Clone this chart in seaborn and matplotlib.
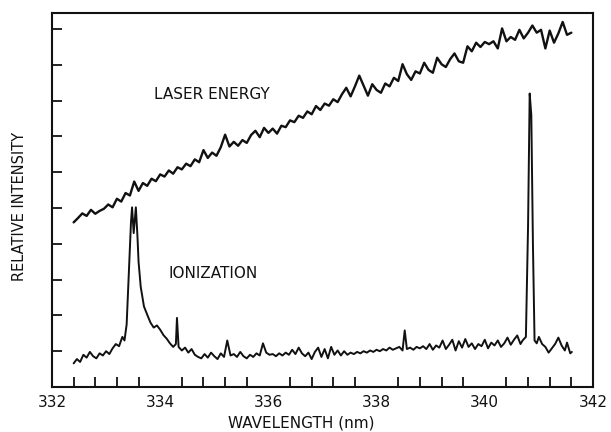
"""Laser energy and ionization signal versus wavelength (scanned figure)."""

import matplotlib

matplotlib.use("Agg")
import matplotlib.pyplot as plt
import numpy as np
import pandas as pd
import seaborn as sns
from matplotlib.ticker import MultipleLocator

# --- laser energy trace ---
laser_nm = [
    332.40, 332.48, 332.56, 332.64, 332.72, 332.80, 332.88, 332.96, 333.04, 333.12,
    333.20, 333.28, 333.36, 333.44, 333.52, 333.60, 333.68, 333.76, 333.84, 333.92,
    334.00, 334.08, 334.16, 334.24, 334.32, 334.40, 334.48, 334.56, 334.64, 334.72,
    334.80, 334.88, 334.96, 335.04, 335.12, 335.20, 335.28, 335.36, 335.44, 335.52,
    335.60, 335.68, 335.76, 335.84, 335.92, 336.00, 336.08, 336.16, 336.24, 336.32,
    336.40, 336.48, 336.56, 336.64, 336.72, 336.80, 336.88, 336.96, 337.04, 337.12,
    337.20, 337.28, 337.36, 337.44, 337.52, 337.60, 337.68, 337.76, 337.84, 337.92,
    338.00, 338.08, 338.16, 338.24, 338.32, 338.40, 338.48, 338.56, 338.64, 338.72,
    338.80, 338.88, 338.96, 339.04, 339.12, 339.20, 339.28, 339.36, 339.44, 339.52,
    339.60, 339.68, 339.76, 339.84, 339.92, 340.00, 340.08, 340.16, 340.24, 340.32,
    340.40, 340.48, 340.56, 340.64, 340.72, 340.80, 340.88, 340.96, 341.04, 341.12,
    341.20, 341.28, 341.36, 341.44, 341.52, 341.60,
]
laser_energy = [
    4.60, 4.72, 4.85, 4.78, 4.95, 4.84, 4.92, 4.98, 5.10, 5.02,
    5.26, 5.18, 5.42, 5.35, 5.74, 5.48, 5.70, 5.62, 5.82, 5.75,
    5.94, 5.88, 6.05, 5.96, 6.14, 6.08, 6.24, 6.17, 6.36, 6.28,
    6.62, 6.40, 6.55, 6.46, 6.70, 7.05, 6.72, 6.85, 6.74, 6.90,
    6.82, 7.04, 7.16, 6.98, 7.24, 7.10, 7.22, 7.08, 7.30, 7.26,
    7.45, 7.40, 7.58, 7.52, 7.70, 7.62, 7.85, 7.74, 7.92, 7.86,
    8.04, 7.96, 8.18, 8.36, 8.12, 8.40, 8.70, 8.42, 8.14, 8.46,
    8.30, 8.22, 8.48, 8.40, 8.64, 8.55, 9.02, 8.74, 8.58, 8.82,
    8.76, 9.06, 8.86, 8.78, 9.20, 9.02, 8.94, 9.16, 9.32, 9.10,
    9.06, 9.52, 9.38, 9.62, 9.50, 9.64, 9.58, 9.66, 9.46, 10.02,
    9.66, 9.78, 9.70, 9.98, 9.74, 9.90, 10.10, 9.90, 9.98, 9.46,
    9.96, 9.62, 9.88, 10.20, 9.84, 9.90,
]

# --- ionization trace ---
ion_nm = [
    332.40, 332.46, 332.52, 332.58, 332.64, 332.70, 332.76, 332.82, 332.88, 332.94,
    333.00, 333.06, 333.12, 333.18, 333.24, 333.30, 333.34, 333.38, 333.42, 333.46,
    333.48, 333.51, 333.55, 333.58, 333.60, 333.64, 333.70, 333.76, 333.82, 333.88,
    333.94, 334.00, 334.06, 334.12, 334.18, 334.24, 334.29, 334.31, 334.34, 334.40,
    334.46, 334.52, 334.58, 334.64, 334.70, 334.76, 334.82, 334.88, 334.94, 335.00,
    335.06, 335.12, 335.18, 335.24, 335.30, 335.36, 335.42, 335.48, 335.54, 335.60,
    335.66, 335.72, 335.78, 335.84, 335.90, 335.96, 336.02, 336.08, 336.14, 336.20,
    336.26, 336.32, 336.38, 336.44, 336.50, 336.56, 336.62, 336.68, 336.74, 336.80,
    336.86, 336.92, 336.98, 337.04, 337.10, 337.16, 337.22, 337.28, 337.34, 337.40,
    337.46, 337.52, 337.58, 337.64, 337.70, 337.76, 337.82, 337.88, 337.94, 338.00,
    338.06, 338.12, 338.18, 338.24, 338.30, 338.36, 338.42, 338.48, 338.52, 338.56,
    338.62, 338.68, 338.74, 338.80, 338.86, 338.92, 338.98, 339.04, 339.10, 339.16,
    339.22, 339.28, 339.34, 339.40, 339.46, 339.52, 339.58, 339.64, 339.70, 339.76,
    339.82, 339.88, 339.94, 340.00, 340.06, 340.12, 340.18, 340.24, 340.30, 340.36,
    340.42, 340.48, 340.54, 340.60, 340.66, 340.70, 340.76, 340.80, 340.83, 340.86,
    340.89, 340.92, 340.96, 341.00, 341.06, 341.12, 341.18, 341.24, 341.30, 341.36,
    341.42, 341.48, 341.52, 341.58, 341.61,
]
ionization = [
    0.66, 0.78, 0.70, 0.90, 0.82, 0.98, 0.86, 0.80, 0.94, 0.88,
    1.00, 0.92, 1.08, 1.20, 1.14, 1.40, 1.30, 1.75, 3.20, 4.60,
    5.02, 4.30, 5.02, 4.20, 3.50, 2.80, 2.25, 2.02, 1.80, 1.66,
    1.72, 1.60, 1.45, 1.35, 1.22, 1.12, 1.20, 1.93, 1.12, 1.02,
    1.10, 0.96, 1.06, 0.90, 0.84, 0.80, 0.92, 0.82, 0.96, 0.86,
    0.78, 0.94, 0.84, 1.30, 0.88, 0.92, 0.84, 0.98, 0.86, 0.80,
    0.90, 0.84, 0.94, 0.88, 1.22, 0.96, 0.90, 0.92, 0.86, 0.94,
    0.88, 0.96, 0.90, 1.04, 0.92, 1.10, 0.94, 0.86, 0.96, 0.78,
    0.98, 1.10, 0.84, 1.06, 0.80, 1.12, 0.90, 1.02, 0.88, 1.00,
    0.90, 0.96, 0.92, 0.98, 0.94, 1.00, 0.96, 1.02, 0.98, 1.04,
    1.00, 1.06, 1.02, 1.10, 1.04, 1.08, 1.12, 1.02, 1.58, 1.06,
    1.10, 1.04, 1.12, 1.08, 1.14, 1.06, 1.20, 1.04, 1.16, 1.10,
    1.30, 1.06, 1.18, 1.32, 1.02, 1.28, 1.10, 1.34, 1.12, 1.22,
    1.06, 1.20, 1.14, 1.32, 1.08, 1.24, 1.16, 1.30, 1.12, 1.22,
    1.38, 1.18, 1.32, 1.44, 1.20, 1.30, 1.40, 4.50, 8.20, 7.60,
    4.00, 1.30, 1.22, 1.40, 1.20, 1.12, 0.96, 1.08, 1.20, 1.38,
    1.16, 1.02, 1.24, 0.94, 0.98,
]

x_major = [332, 334, 336, 338, 340, 342]
y_ticks = [1, 2, 3, 4, 5, 6, 7, 8, 9, 10]

sns.set_theme(style="white")
plt.rcParams["font.family"] = ["DejaVu Sans"]

fig = plt.figure(figsize=(6.11, 4.32), dpi=100)
ax = fig.add_axes([0.0851, 0.1042, 0.8854, 0.8657])

laser_df = pd.DataFrame({"nm": laser_nm, "val": laser_energy})
ion_df = pd.DataFrame({"nm": ion_nm, "val": ionization})
sns.lineplot(data=laser_df, x="nm", y="val", color="#111111", lw=1.7,
             estimator=None, sort=False, ax=ax)
sns.lineplot(data=ion_df, x="nm", y="val", color="#111111", lw=1.4,
             estimator=None, sort=False, ax=ax)

ax.set_xlim(332, 342)
ax.set_ylim(0, 10.45)
ax.set_xticks(x_major)
ax.set_xticklabels([str(v) for v in x_major], fontsize=11)
ax.xaxis.set_minor_locator(MultipleLocator(0.4))
ax.set_yticks(y_ticks)
ax.set_yticklabels([])

ax.tick_params(axis="x", which="major", direction="in", length=15.5, width=1.3,
               color="#111111", pad=6, labelcolor="#111111")
ax.tick_params(axis="x", which="minor", direction="in", length=7, width=1.3,
               color="#111111", bottom=True)
ax.tick_params(axis="y", direction="in", length=7, width=1.3, color="#111111",
               left=True)

for side in ["left", "right", "top", "bottom"]:
    ax.spines[side].set_visible(True)
    ax.spines[side].set_color("#111111")
    ax.spines[side].set_linewidth(1.5)

ax.set_xlabel("WAVELENGTH (nm)", fontsize=11, color="#111111")
ax.xaxis.set_label_coords(0.46, -0.075)
ax.set_ylabel("RELATIVE INTENSITY", fontsize=10.5, color="#111111")
ax.yaxis.set_label_coords(-0.047, 0.484)

ax.text(334.96, 8.16, "LASER ENERGY", fontsize=11, ha="center", va="center",
        color="#111111")
ax.text(334.98, 3.18, "IONIZATION", fontsize=11, ha="center", va="center",
        color="#111111")

fig.savefig("out.png", dpi=100)
